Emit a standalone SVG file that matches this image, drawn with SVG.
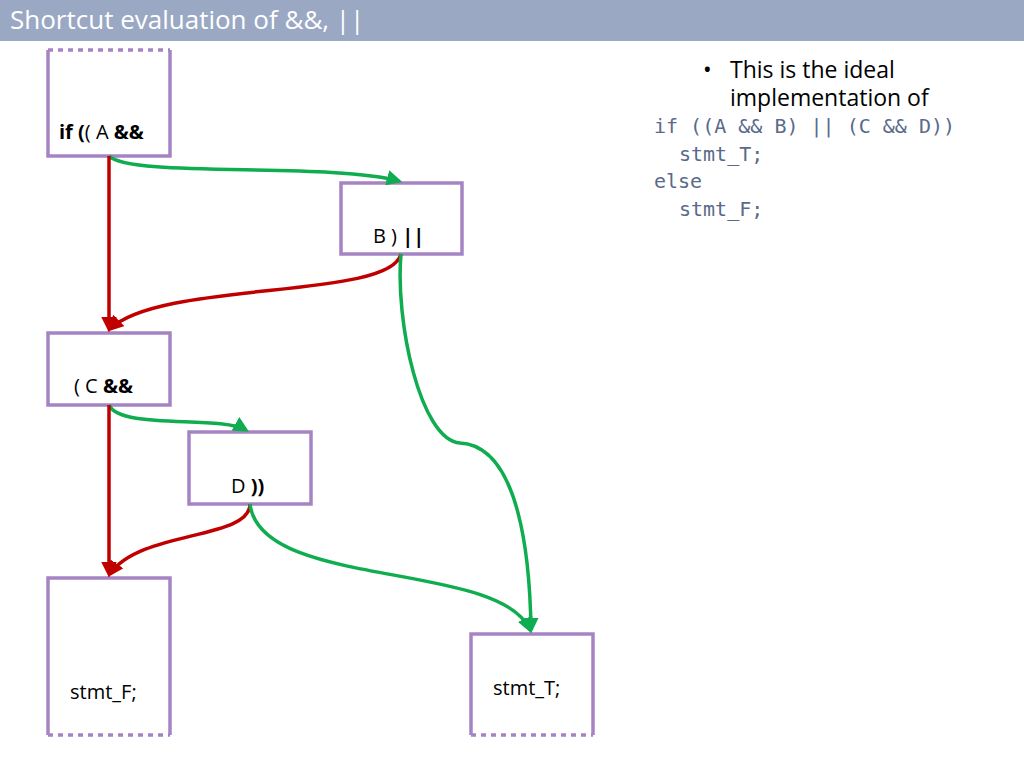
<svg xmlns="http://www.w3.org/2000/svg" width="1024" height="768" viewBox="0 0 1024 768">
<style>
.box{fill:#fff;stroke:#a584c4;stroke-width:3.5}
.dot{fill:none;stroke:#a584c4;stroke-width:3.5;stroke-dasharray:5 5}
.lbl{font-family:"Open Sans","Liberation Sans",sans-serif;font-size:20px;fill:#000}
.b{font-weight:bold}
.code{font-family:"DejaVu Sans Mono","Liberation Mono",monospace;font-size:20px;fill:#5a6a8a}
.g{fill:none;stroke:#0fad4f;stroke-width:3.5}
.r{fill:none;stroke:#c00000;stroke-width:3.5}
.bt{font-family:"Open Sans","Liberation Sans",sans-serif;font-size:23px;fill:#000}
</style>
<defs>
<marker id="ag" markerWidth="4.5" markerHeight="4.5" refX="3.5" refY="2.25" orient="auto"><path d="M0,0L4.5,2.25L0,4.5z" fill="#0fad4f"/></marker>
<marker id="ar" markerWidth="4.5" markerHeight="4.5" refX="3.5" refY="2.25" orient="auto"><path d="M0,0L4.5,2.25L0,4.5z" fill="#c00000"/></marker>
</defs>
<rect x="0" y="0" width="1024" height="41" fill="#9aa8c4"/>
<text x="10" y="29" font-family="'Open Sans','Liberation Sans',sans-serif" font-size="26" fill="#fff">Shortcut evaluation of &amp;&amp;, ||</text>
<g id="nA"><path class="box" d="M48,50V156H170V50" /><line class="dot" x1="48" y1="50" x2="170" y2="50"/><text class="lbl" x="59" y="139"><tspan class="b">if (</tspan>( A <tspan class="b">&amp;&amp;</tspan></text></g>
<g id="nB"><rect class="box" x="341" y="183" width="121" height="71"/><text class="lbl" x="373" y="243">B ) <tspan class="b">||</tspan></text></g>
<g id="nC"><rect class="box" x="48" y="333" width="122" height="72"/><text class="lbl" x="74" y="393">( C <tspan class="b">&amp;&amp;</tspan></text></g>
<g id="nD"><rect class="box" x="189" y="432" width="122" height="72"/><text class="lbl" x="231" y="493">D <tspan class="b">))</tspan></text></g>
<g id="nF"><path class="box" d="M48,735V578H170V735"/><line class="dot" x1="48" y1="735" x2="170" y2="735"/><text class="lbl" x="70" y="699">stmt_F;</text></g>
<g id="nT"><path class="box" d="M471,735V634H593V735"/><line class="dot" x1="471" y1="735" x2="593" y2="735"/><text class="lbl" x="493" y="695">stmt_T;</text></g>
<g id="edges">
<path class="g" marker-end="url(#ag)" d="M109,156C130,178 330,162 399,181"/>
<path class="r" marker-end="url(#ar)" d="M109,156V329"/>
<path class="r" marker-end="url(#ar)" d="M401,254C390,300 160,280 110,329"/>
<path class="g" marker-end="url(#ag)" d="M401,254C395,320 420,440 460,443C520,446 530,560 531,630"/>
<path class="g" marker-end="url(#ag)" d="M109,405C120,430 220,415 246,430"/>
<path class="r" marker-end="url(#ar)" d="M109,405V574"/>
<path class="r" marker-end="url(#ar)" d="M250,504C250,540 140,530 110,574"/>
<path class="g" marker-end="url(#ag)" d="M250,504C260,590 500,560 530,630"/>
</g>
<text class="bt" x="703" y="78">•<tspan x="730">This is the ideal</tspan></text>
<text class="bt" x="730" y="106">implementation of</text>
<text class="code" x="654" y="133">if ((A &amp;&amp; B) || (C &amp;&amp; D))</text>
<text class="code" x="679" y="161">stmt_T;</text>
<text class="code" x="654" y="188">else</text>
<text class="code" x="679" y="216">stmt_F;</text>
</svg>
